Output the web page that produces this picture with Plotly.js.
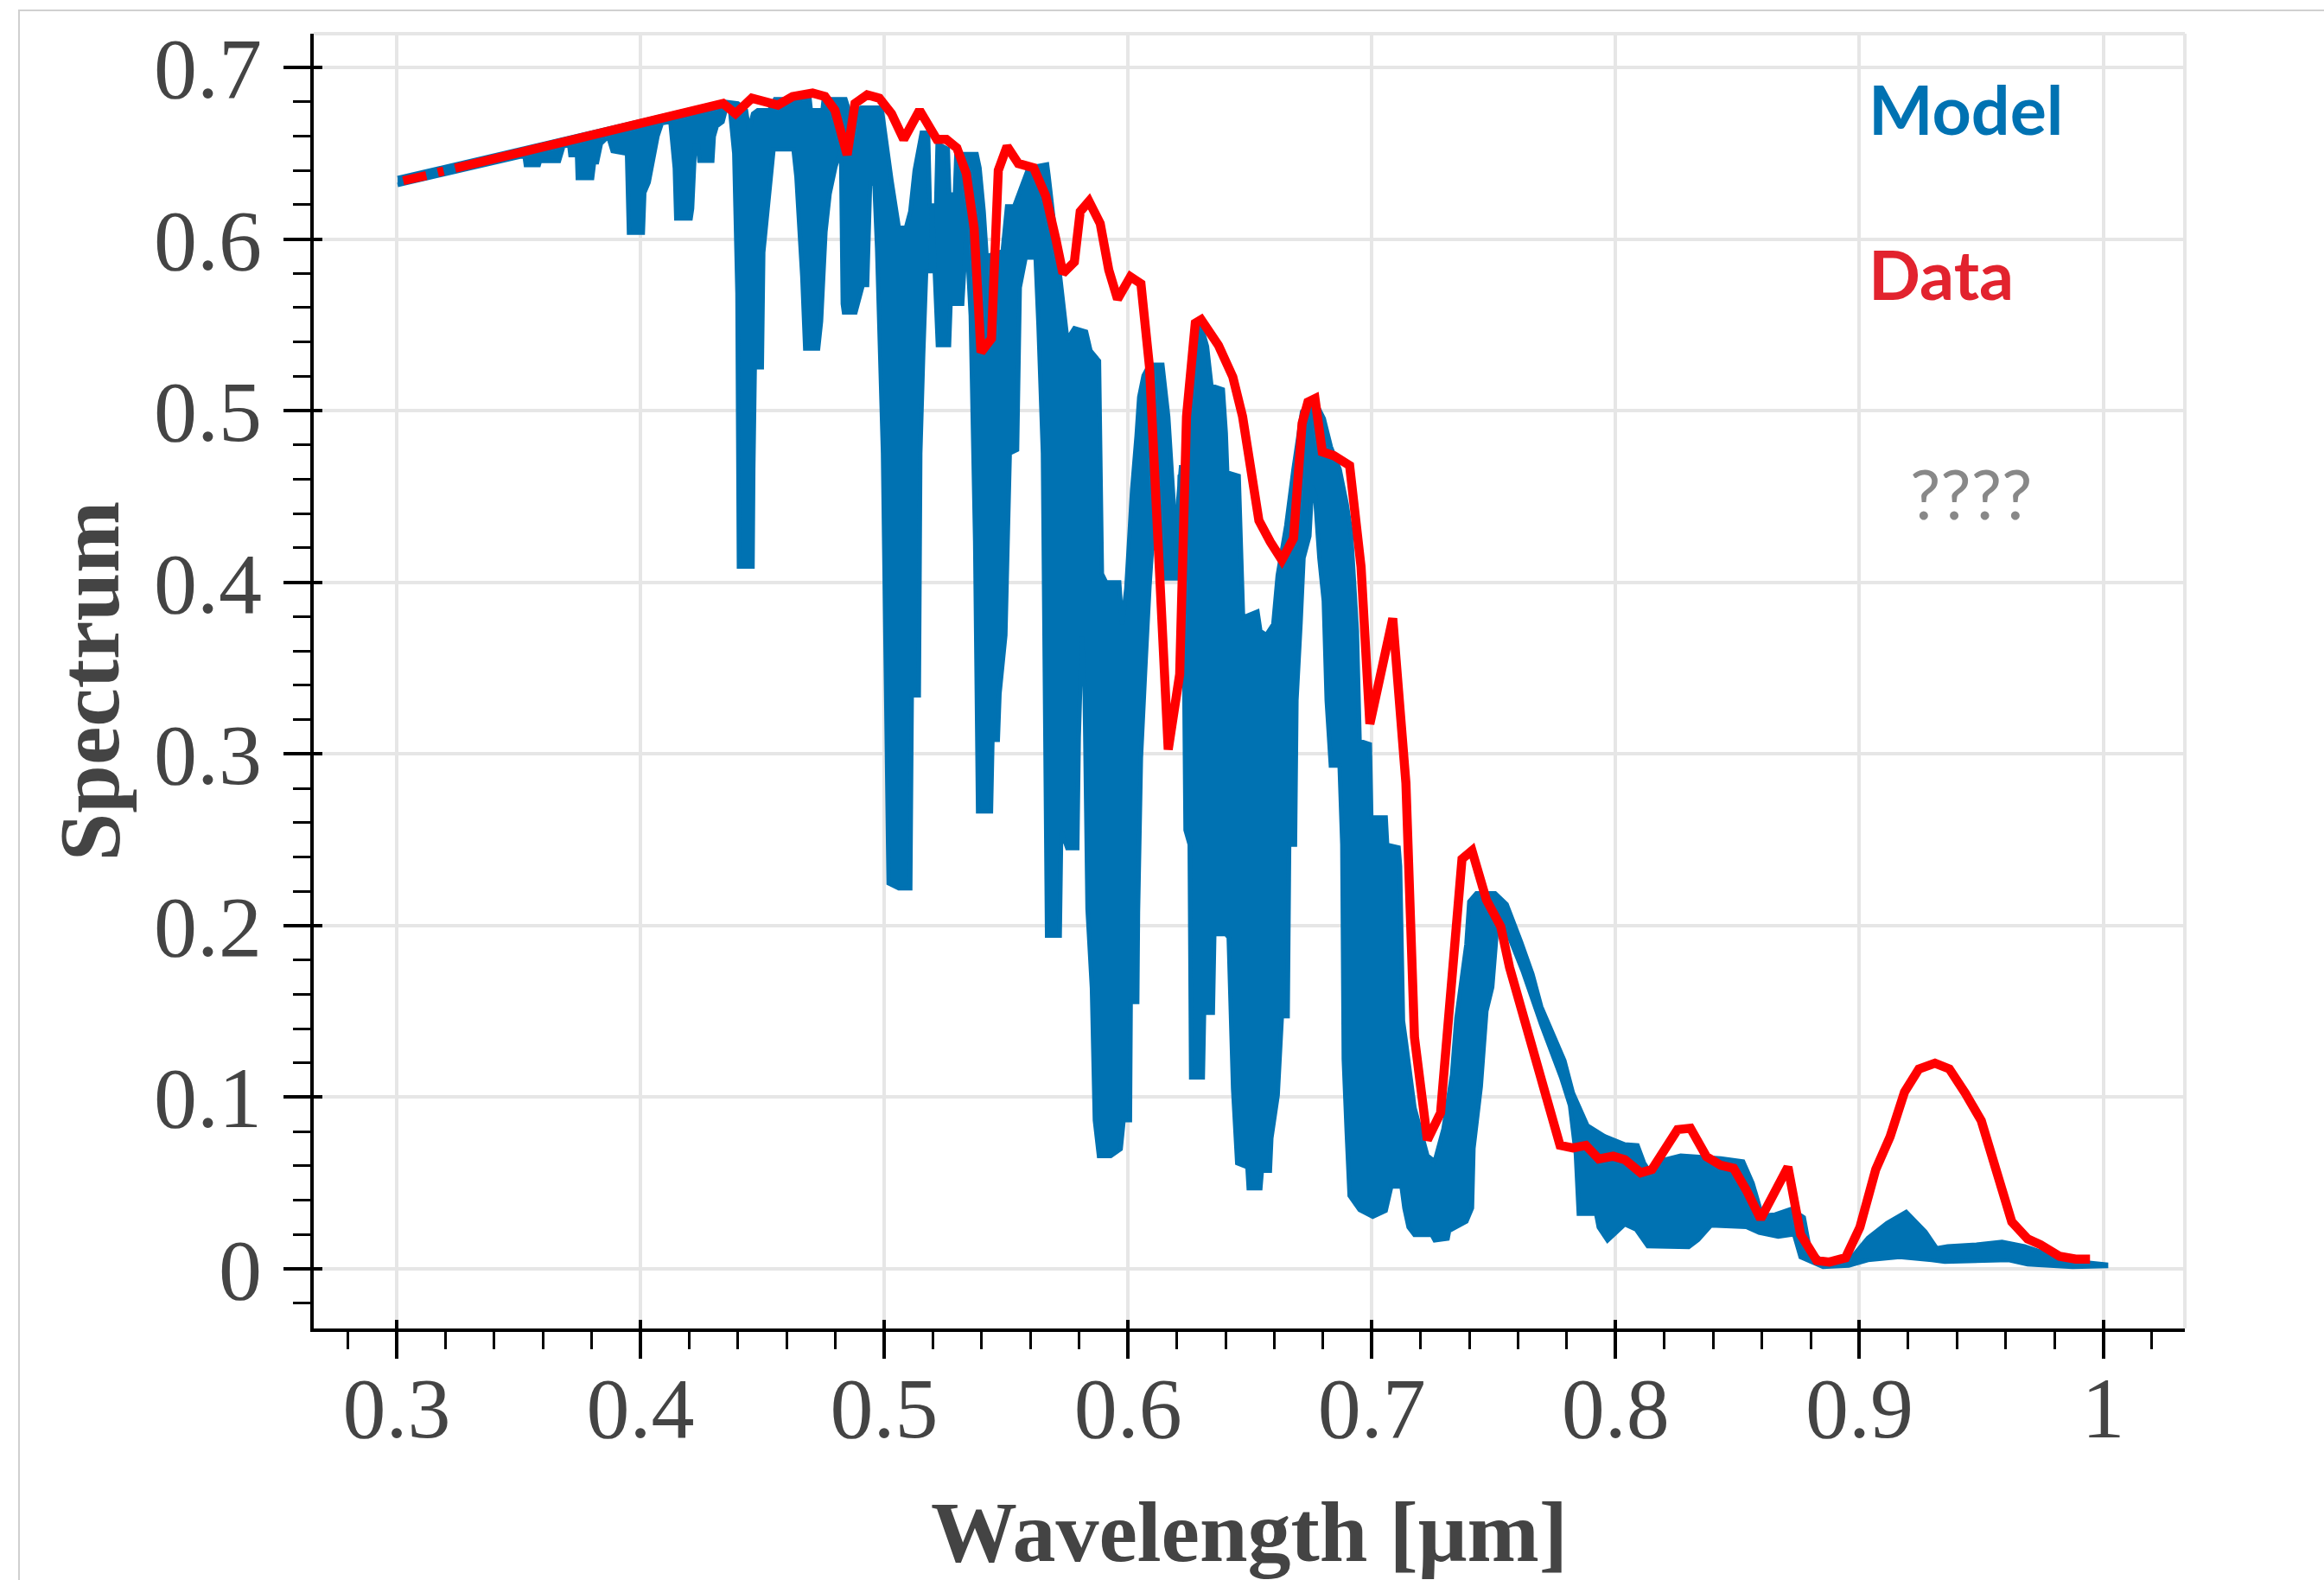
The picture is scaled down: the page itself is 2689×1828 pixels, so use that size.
<!DOCTYPE html>
<html>
<head>
<meta charset="utf-8">
<script src="https://cdn.plot.ly/plotly-3.0.1.min.js"></script>
<style>
html, body { margin: 0; padding: 0; background: #ffffff; overflow: hidden; }
#frame { position: absolute; left: 21px; top: 11px; width: 2668px; height: 1817px; box-sizing: border-box;
         border-left: 2px solid #d0d0d0; border-top: 2px solid #d0d0d0; }
#chart { position: absolute; left: 0; top: 0; width: 2689px; height: 1828px; }
</style>
</head>
<body>
<div id="frame"></div>
<div id="chart"></div>
<script>
// ---------- Data ----------
// Measured "Data" spectrum (red line); null marks the small gaps at the start
const dataWavelength = [
  0.3027, 0.3122, 0.3145, 0.3169, 0.3193, 0.3215, 0.3240, 0.4339, 0.4390, 0.4457,
  0.4564, 0.4624, 0.4706, 0.4757, 0.4798, 0.4848, 0.4880, 0.4930, 0.4980, 0.5030,
  0.5080, 0.5145, 0.5216, 0.5255, 0.5298, 0.5337, 0.5369, 0.5397, 0.5440, 0.5468,
  0.5504, 0.5550, 0.5613, 0.5663, 0.5704, 0.5733, 0.5780, 0.5804, 0.5840, 0.5886,
  0.5921, 0.5957, 0.6010, 0.6053, 0.6088, 0.6123, 0.6165, 0.6212, 0.6240, 0.6276,
  0.6300, 0.6371, 0.6430, 0.6470, 0.6513, 0.6537, 0.6584, 0.6631, 0.6679, 0.6714,
  0.6738, 0.6767, 0.6797, 0.6844, 0.6909, 0.6956, 0.6992, 0.7086, 0.7140, 0.7175,
  0.7228, 0.7282, 0.7370, 0.7411, 0.7470, 0.7529, 0.7565, 0.7612, 0.7772, 0.7825,
  0.7878, 0.7931, 0.7990, 0.8038, 0.8103, 0.8149, 0.8254, 0.8307, 0.8373, 0.8431,
  0.8484, 0.8536, 0.8595, 0.8707, 0.8759, 0.8825, 0.8877, 0.8943, 0.9002, 0.9067,
  0.9126, 0.9185, 0.9244, 0.9310, 0.9369, 0.9435, 0.9500, 0.9566, 0.9625, 0.9690,
  0.9743, 0.9821, 0.9887, 0.9946
];
const dataSpectrum = [
  0.6340, 0.6370, null, 0.6388, 0.6396, null, 0.6412, 0.6790, 0.6730, 0.6820,
  0.6780, 0.6830, 0.6850, 0.6830, 0.6750, 0.6490, 0.6790, 0.6840, 0.6820, 0.6730,
  0.6580, 0.6750, 0.6580, 0.6580, 0.6530, 0.6380, 0.6060, 0.5340, 0.5420, 0.6400,
  0.6540, 0.6440, 0.6415, 0.6250, 0.6000, 0.5800, 0.5866, 0.6160, 0.6220, 0.6090,
  0.5820, 0.5650, 0.5780, 0.5740, 0.5257, 0.4130, 0.3026, 0.3464, 0.4965, 0.5510,
  0.5530, 0.5380, 0.5196, 0.4965, 0.4590, 0.4360, 0.4235, 0.4130, 0.4257, 0.4925,
  0.5050, 0.5070, 0.4760, 0.4738, 0.4680, 0.4090, 0.3175, 0.3790, 0.2830, 0.1350,
  0.0751, 0.0909, 0.2388, 0.2437, 0.2150, 0.1994, 0.1757, 0.1523, 0.0720, 0.0705,
  0.0720, 0.0641, 0.0657, 0.0636, 0.0560, 0.0579, 0.0812, 0.0820, 0.0654, 0.0604,
  0.0586, 0.0460, 0.0292, 0.0594, 0.0200, 0.0049, 0.0040, 0.0065, 0.0242, 0.0579,
  0.0770, 0.1030, 0.1165, 0.1198, 0.1165, 0.1022, 0.0863, 0.0552, 0.0275, 0.0175,
  0.0141, 0.0074, 0.0057, 0.0057
];

// Model spectrum: upper visible edge of the dense blue trace
const modelTopWavelength = [
  0.3004, 0.4340, 0.4400, 0.4433, 0.4445, 0.4462, 0.4481, 0.4528, 0.4552, 0.4694,
  0.4699, 0.4747, 0.4752, 0.4841, 0.4860, 0.4906, 0.4989, 0.5007, 0.5030, 0.5060,
  0.5089, 0.5107, 0.5125, 0.5154, 0.5180, 0.5187, 0.5213, 0.5219, 0.5261, 0.5267,
  0.5290, 0.5296, 0.5379, 0.5391, 0.5408, 0.5420, 0.5486, 0.5504, 0.5533, 0.5592,
  0.5668, 0.5674, 0.5698, 0.5733, 0.5751, 0.5780, 0.5828, 0.5846, 0.5881, 0.5893,
  0.5910, 0.5964, 0.5976, 0.5993, 0.6017, 0.6035, 0.6046, 0.6064, 0.6088, 0.6141,
  0.6165, 0.6189, 0.6200, 0.6212, 0.6235, 0.6253, 0.6277, 0.6300, 0.6324, 0.6342,
  0.6389, 0.6401, 0.6407, 0.6454, 0.6472, 0.6531, 0.6543, 0.6567, 0.6596, 0.6614,
  0.6649, 0.6679, 0.6714, 0.6744, 0.6773, 0.6803, 0.6832, 0.6868, 0.6897, 0.6915,
  0.6939, 0.6950, 0.6992, 0.6998, 0.7057, 0.7063, 0.7110, 0.7116, 0.7128, 0.7140,
  0.7175, 0.7228, 0.7258, 0.7294, 0.7329, 0.7347, 0.7370, 0.7388, 0.7400, 0.7429,
  0.7506, 0.7553, 0.7612, 0.7659, 0.7695, 0.7742, 0.7790, 0.7825, 0.7849, 0.7884,
  0.7955, 0.8038, 0.8090, 0.8116, 0.8156, 0.8195, 0.8267, 0.8431, 0.8523, 0.8562,
  0.8601, 0.8654, 0.8720, 0.8772, 0.8798, 0.8851, 0.8956, 0.9035, 0.9113, 0.9192,
  0.9271, 0.9317, 0.9362, 0.9480, 0.9585, 0.9677, 0.9743, 0.9848, 1.0012
];
const modelTopSpectrum = [
  0.6355, 0.6800, 0.6790, 0.6750, 0.6636, 0.6730, 0.6750, 0.6750, 0.6815, 0.6815,
  0.6750, 0.6750, 0.6815, 0.6815, 0.6730, 0.6765, 0.6765, 0.6560, 0.6340, 0.6065,
  0.6065, 0.6160, 0.6400, 0.6620, 0.6620, 0.6195, 0.6195, 0.6555, 0.6525, 0.6260,
  0.6260, 0.6495, 0.6495, 0.6415, 0.6160, 0.5900, 0.5929, 0.6190, 0.6190, 0.6415,
  0.6435, 0.6370, 0.6057, 0.5600, 0.5415, 0.5480, 0.5460, 0.5350, 0.5290, 0.4050,
  0.4000, 0.4000, 0.3756, 0.3963, 0.4540, 0.4850, 0.5080, 0.5205, 0.5268, 0.5268,
  0.4966, 0.4424, 0.4050, 0.4620, 0.4650, 0.5040, 0.5458, 0.5498, 0.5374, 0.5146,
  0.5123, 0.4870, 0.4640, 0.4620, 0.3796, 0.3830, 0.3716, 0.3693, 0.3756, 0.4040,
  0.4330, 0.4660, 0.4995, 0.5038, 0.5038, 0.4955, 0.4790, 0.4660, 0.4456, 0.4290,
  0.3716, 0.3077, 0.3057, 0.2630, 0.2630, 0.2470, 0.2455, 0.2346, 0.1445, 0.1320,
  0.0940, 0.0660, 0.0626, 0.0816, 0.1130, 0.1460, 0.1680, 0.1890, 0.2140, 0.2188,
  0.2188, 0.2125, 0.1906, 0.1717, 0.1528, 0.1370, 0.1214, 0.1025, 0.0947, 0.0836,
  0.0773, 0.0725, 0.0720, 0.0620, 0.0529, 0.0634, 0.0660, 0.0644, 0.0626, 0.0500,
  0.0310, 0.0317, 0.0349, 0.0300, 0.0100, 0.0045, 0.0045, 0.0180, 0.0267, 0.0332,
  0.0216, 0.0120, 0.0132, 0.0142, 0.0158, 0.0132, 0.0100, 0.0050, 0.0025
];

// Model spectrum: lower visible edge of the dense blue trace (absorption lines)
const modelBottomWavelength = [
  0.3004, 0.3506, 0.3525, 0.3530, 0.3583, 0.3593, 0.3601, 0.3666, 0.3684, 0.3708,
  0.3713, 0.3740, 0.3743, 0.3802, 0.3810, 0.3822, 0.3838, 0.3868, 0.3886, 0.3945,
  0.3953, 0.4010, 0.4016, 0.4034, 0.4052, 0.4070, 0.4088, 0.4123, 0.4141, 0.4147,
  0.4206, 0.4212, 0.4224, 0.4236, 0.4242, 0.4295, 0.4301, 0.4313, 0.4337, 0.4349,
  0.4367, 0.4385, 0.4398, 0.4404, 0.4460, 0.4463, 0.4469, 0.4498, 0.4504, 0.4528,
  0.4546, 0.4628, 0.4640, 0.4664, 0.4676, 0.4729, 0.4741, 0.4759, 0.4776, 0.4800,
  0.4823, 0.4830, 0.4835, 0.4882, 0.4912, 0.4930, 0.4942, 0.4960, 0.4971, 0.4995,
  0.5007, 0.5018, 0.5060, 0.5107, 0.5113, 0.5142, 0.5148, 0.5160, 0.5172, 0.5190,
  0.5196, 0.5220, 0.5266, 0.5272, 0.5320, 0.5337, 0.5355, 0.5373, 0.5385, 0.5438,
  0.5444, 0.5466, 0.5473, 0.5497, 0.5515, 0.5545, 0.5556, 0.5580, 0.5621, 0.5633,
  0.5651, 0.5656, 0.5668, 0.5720, 0.5726, 0.5751, 0.5792, 0.5798, 0.5810, 0.5822,
  0.5834, 0.5852, 0.5864, 0.5881, 0.5929, 0.5970, 0.5982, 0.6008, 0.6011, 0.6038,
  0.6041, 0.6053, 0.6070, 0.6088, 0.6100, 0.6141, 0.6147, 0.6200, 0.6206, 0.6218,
  0.6230, 0.6236, 0.6253, 0.6259, 0.6307, 0.6312, 0.6348, 0.6354, 0.6401, 0.6413,
  0.6431, 0.6448, 0.6490, 0.6495, 0.6543, 0.6549, 0.6582, 0.6588, 0.6614, 0.6631,
  0.6655, 0.6661, 0.6685, 0.6691, 0.6708, 0.6720, 0.6744, 0.6755, 0.6767, 0.6785,
  0.6803, 0.6815, 0.6832, 0.6868, 0.6879, 0.6885, 0.6897, 0.6909, 0.6950, 0.7004,
  0.7057, 0.7080, 0.7122, 0.7134, 0.7151, 0.7175, 0.7246, 0.7258, 0.7311, 0.7317,
  0.7388, 0.7411, 0.7417, 0.7447, 0.7470, 0.7494, 0.7506, 0.7518, 0.7565, 0.7618,
  0.7695, 0.7778, 0.7813, 0.7837, 0.7849, 0.7920, 0.7931, 0.7967, 0.8038, 0.8084,
  0.8132, 0.8300, 0.8339, 0.8392, 0.8536, 0.8588, 0.8667, 0.8732, 0.8759, 0.8851,
  0.8956, 0.9035, 0.9165, 0.9297, 0.9350, 0.9612, 0.9690, 0.9874, 1.0012
];
const modelBottomSpectrum = [
  0.6315, 0.6480, 0.6480, 0.6430, 0.6430, 0.6480, 0.6455, 0.6455, 0.6540, 0.6548,
  0.6488, 0.6488, 0.6355, 0.6355, 0.6447, 0.6447, 0.6555, 0.6597, 0.6512, 0.6497,
  0.6036, 0.6036, 0.6270, 0.6330, 0.6447, 0.6598, 0.6675, 0.6684, 0.6412, 0.6120,
  0.6120, 0.6178, 0.6548, 0.6548, 0.6456, 0.6456, 0.6598, 0.6657, 0.6682, 0.6749,
  0.6762, 0.6497, 0.5682, 0.4092, 0.4092, 0.4657, 0.5252, 0.5252, 0.5922, 0.6262,
  0.6522, 0.6522, 0.6362, 0.5782, 0.5362, 0.5362, 0.5522, 0.6042, 0.6262, 0.6422,
  0.6522, 0.5622, 0.5572, 0.5572, 0.5732, 0.5732, 0.6322, 0.6322, 0.5942, 0.4752,
  0.3662, 0.2247, 0.2217, 0.2217, 0.3342, 0.3342, 0.4752, 0.5332, 0.5812, 0.5812,
  0.6198, 0.5382, 0.5382, 0.5622, 0.5622, 0.6042, 0.5552, 0.4239, 0.2666, 0.2666,
  0.3082, 0.3082, 0.3352, 0.3692, 0.4752, 0.4772, 0.5717, 0.5892, 0.5892, 0.5492,
  0.4752, 0.3922, 0.1942, 0.1942, 0.2552, 0.2452, 0.2452, 0.3099, 0.3682, 0.3392,
  0.2097, 0.1638, 0.0866, 0.0657, 0.0657, 0.0699, 0.0866, 0.0866, 0.1555, 0.1555,
  0.2076, 0.2974, 0.3476, 0.3976, 0.4226, 0.4142, 0.4022, 0.4022, 0.4478, 0.4682,
  0.3559, 0.2557, 0.2472, 0.1116, 0.1116, 0.1492, 0.1492, 0.1951, 0.1951, 0.1930,
  0.1052, 0.0616, 0.0592, 0.0470, 0.0470, 0.0572, 0.0572, 0.0762, 0.1012, 0.1472,
  0.1472, 0.2472, 0.2472, 0.3312, 0.3768, 0.4142, 0.4269, 0.4562, 0.4512, 0.4142,
  0.3892, 0.3312, 0.2932, 0.2932, 0.2472, 0.1222, 0.0802, 0.0427, 0.0344, 0.0304,
  0.0339, 0.0480, 0.0480, 0.0352, 0.0242, 0.0198, 0.0198, 0.0166, 0.0177, 0.0222,
  0.0276, 0.0354, 0.0702, 0.1062, 0.1502, 0.1642, 0.1862, 0.2062, 0.1928, 0.1739,
  0.1424, 0.1110, 0.0952, 0.0669, 0.0322, 0.0322, 0.0242, 0.0166, 0.0260, 0.0229,
  0.0132, 0.0128, 0.0170, 0.0254, 0.0245, 0.0212, 0.0188, 0.0202, 0.0069, 0.0012,
  0.0019, 0.0052, 0.0069, 0.0052, 0.0042, 0.0052, 0.0027, 0.0012, 0.0017
];

// Axis ticks
const xTickValues = [0.3, 0.4, 0.5, 0.6, 0.7, 0.8, 0.9, 1.0];
const xTickLabels = ['0.3', '0.4', '0.5', '0.6', '0.7', '0.8', '0.9', '1'];
const yTickValues = [0, 0.1, 0.2, 0.3, 0.4, 0.5, 0.6, 0.7];
const yTickLabels = ['0', '0.1', '0.2', '0.3', '0.4', '0.5', '0.6', '0.7'];

// Labels placed inside the plot
const labelTexts = ['Model', 'Data', '????'];

// ---------- Figure ----------
const BLUE = '#0072B2';
const xRange = [0.266, 1.0335];
const yRange = [-0.0347, 0.7196];

const modelX = modelTopWavelength.concat(modelBottomWavelength.slice().reverse());
const modelY = modelTopSpectrum.concat(modelBottomSpectrum.slice().reverse());

const traces = [
  {
    type: 'scatter', mode: 'lines', name: 'Model',
    x: modelX, y: modelY, fill: 'toself', fillcolor: BLUE,
    line: { color: BLUE, width: 5 }, hoverinfo: 'skip'
  },
  {
    type: 'scatter', mode: 'lines', name: 'Data',
    x: dataWavelength, y: dataSpectrum, connectgaps: false,
    line: { color: '#FF0000', width: 10.5 }, hoverinfo: 'skip'
  },
  {
    type: 'scatter', mode: 'lines', x: [null], y: [null],
    xaxis: 'x2', yaxis: 'y2', showlegend: false, hoverinfo: 'skip'
  }
];

const tickFont = { family: 'Liberation Serif, Times New Roman, serif', size: 100, color: '#444444' };
const titleFont = { family: 'Liberation Serif, Times New Roman, serif', size: 100, color: '#444444', weight: 'bold' };
const labelFont = (color, weight) => ({ family: 'Lato, Open Sans, sans-serif', size: 79, color: color, weight: weight });

const layout = {
  width: 2689, height: 1828,
  margin: { l: 363, r: 161, t: 39, b: 291, pad: 0 },
  paper_bgcolor: 'rgba(0,0,0,0)',
  plot_bgcolor: '#ffffff',
  showlegend: false,
  hovermode: false,
  xaxis: {
    range: xRange, tickmode: 'array', tickvals: xTickValues, ticktext: xTickLabels,
    ticks: 'outside', ticklen: 31, tickwidth: 4, tickcolor: '#000000',
    showline: true, linecolor: '#000000', linewidth: 4,
    showgrid: true, gridcolor: '#e6e6e6', gridwidth: 4, zeroline: false,
    tickfont: tickFont, automargin: false, ticklabelstandoff: -29,
    minor: { tickmode: 'linear', tick0: 0, dtick: 0.02, ticks: 'outside', ticklen: 20, tickwidth: 3, tickcolor: '#000000', showgrid: false },
    title: { text: 'Wavelength [μm]', font: titleFont, standoff: 53 }
  },
  yaxis: {
    range: yRange, tickmode: 'array', tickvals: yTickValues, ticktext: yTickLabels,
    ticks: 'outside', ticklen: 31, tickwidth: 4, tickcolor: '#000000',
    showline: true, linecolor: '#000000', linewidth: 4,
    showgrid: true, gridcolor: '#e6e6e6', gridwidth: 4, zeroline: false,
    tickfont: tickFont, automargin: false, ticklabelstandoff: 5,
    minor: { tickmode: 'linear', tick0: 0, dtick: 0.02, ticks: 'outside', ticklen: 20, tickwidth: 3, tickcolor: '#000000', showgrid: false },
    title: { text: 'Spectrum', font: titleFont, standoff: 8 }
  },
  xaxis2: {
    overlaying: 'x', anchor: 'y', side: 'bottom', range: xRange,
    tickmode: 'array', tickvals: xTickValues, ticks: 'inside', ticklen: 10, tickwidth: 4, tickcolor: '#000000',
    showticklabels: false, showgrid: false, zeroline: false, showline: false
  },
  yaxis2: {
    overlaying: 'y', anchor: 'x', side: 'left', range: yRange,
    tickmode: 'array', tickvals: yTickValues, ticks: 'inside', ticklen: 10, tickwidth: 4, tickcolor: '#000000',
    showticklabels: false, showgrid: false, zeroline: false, showline: false
  },
  shapes: [
    { type: 'line', xref: 'paper', yref: 'paper', x0: 0, x1: 1, y0: 1, y1: 1, layer: 'below', line: { color: '#e6e6e6', width: 4 } },
    { type: 'line', xref: 'paper', yref: 'paper', x0: 1, x1: 1, y0: 0, y1: 1, layer: 'below', line: { color: '#e6e6e6', width: 4 } }
  ],
  annotations: [
    { text: labelTexts[0], x: 0.9030, y: 0.676, xref: 'x', yref: 'y', xanchor: 'left', yanchor: 'middle', showarrow: false, font: labelFont(BLUE, 'bold') },
    { text: labelTexts[1], x: 0.9030, y: 0.5800, xref: 'x', yref: 'y', xanchor: 'left', yanchor: 'middle', showarrow: false, font: labelFont('#E2232E', 'bold') },
    { text: labelTexts[2], x: 0.9459, y: 0.4519, xref: 'x', yref: 'y', xanchor: 'center', yanchor: 'middle', showarrow: false, font: labelFont('#888888', 'normal') }
  ]
};

Plotly.newPlot('chart', traces, layout, { staticPlot: true, displayModeBar: false });
</script>
</body>
</html>
